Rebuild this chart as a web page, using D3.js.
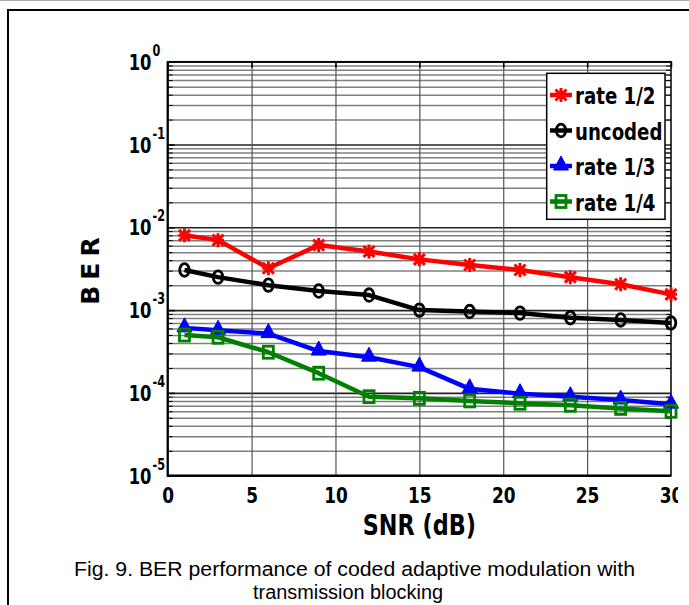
<!DOCTYPE html>
<html>
<head>
<meta charset="utf-8">
<script src="https://cdn.jsdelivr.net/npm/d3@7"></script>
<style>
body { margin: 0; background: #fff; }
svg { display: block; }
</style>
</head>
<body>
<div id="chart"></div>
<script>

// values (SNR in dB, BER)
var snr = [1, 3, 6, 9, 12, 15, 18, 21, 24, 27, 30];
var ber_rate_half = [8.0e-3, 7.0e-3, 3.2e-3, 6.1e-3, 5.1e-3, 4.1e-3, 3.5e-3, 3.05e-3, 2.5e-3, 2.05e-3, 1.55e-3];
var ber_uncoded   = [3.05e-3, 2.5e-3, 2.0e-3, 1.7e-3, 1.52e-3, 1.0e-3, 9.6e-4, 9.2e-4, 8.1e-4, 7.6e-4, 7.0e-4];
var ber_rate_third = [6.1e-4, 5.7e-4, 5.2e-4, 3.2e-4, 2.7e-4, 2.05e-4, 1.12e-4, 9.8e-5, 9.0e-5, 8.2e-5, 7.3e-5];
var ber_rate_quarter = [5.0e-4, 4.7e-4, 3.1e-4, 1.73e-4, 9.0e-5, 8.6e-5, 8.0e-5, 7.5e-5, 7.1e-5, 6.5e-5, 6.0e-5];

var series_names = ['rate 1/2', 'uncoded', 'rate 1/3', 'rate 1/4'];
var x_ticks = [0, 5, 10, 15, 20, 25, 30];
var y_exponents = [0, -1, -2, -3, -4, -5];
var caption_lines = ['Fig. 9. BER performance of coded adaptive modulation with', 'transmission blocking'];

var w = 689;
var h = 605;
var plot_left = 167.7, plot_right = 671, plot_top = 61.7, plot_bottom = 475.7;

var xScale = d3.scaleLinear().domain([0, 30]).range([plot_left, plot_right]);
var yScale = d3.scaleLog().domain([1e-5, 1]).range([plot_bottom, plot_top]);

var svg = d3.select('#chart')
    .append('svg')
    .attr('width', w)
    .attr('height', h);

// page frame
svg.append('line').attr('x1', 0).attr('x2', w).attr('y1', 0.5).attr('y2', 0.5)
    .attr('stroke', '#aaa').attr('stroke-width', 1);
svg.append('path')
    .attr('d', 'M8,' + h + ' L8,10 L' + w + ',10')
    .attr('fill', 'none').attr('stroke', 'black').attr('stroke-width', 2);

// condensed bold text, like the squeezed figure
function squeezed(parent, x, y, txt, size, anchor, sx) {
    return parent.append('text')
        .attr('transform', 'translate(' + x + ',' + y + ') scale(' + sx + ',1)')
        .attr('text-anchor', anchor)
        .attr('font-family', 'DejaVu Sans')
        .attr('font-weight', 'bold')
        .attr('font-size', size)
        .attr('fill', 'black')
        .text(txt);
}

var major_vals = y_exponents.map(function(e) { return Math.pow(10, e); });
var minor_vals = [];
for (var e = -5; e < 0; e++) {
    for (var m = 2; m <= 9; m++) {
        minor_vals.push(m * Math.pow(10, e));
    }
}

// horizontal grid
svg.append('g')
    .attr('class', 'grid minor')
    .attr('transform', 'translate(' + plot_left + ',0)')
    .call(d3.axisLeft(yScale).tickValues(minor_vals).tickSize(-(plot_right - plot_left)).tickFormat(''))
    .call(function(g) {
        g.select('.domain').remove();
        g.selectAll('line').attr('stroke', '#808080').attr('stroke-width', 1.5);
    });

svg.append('g')
    .attr('class', 'grid major')
    .attr('transform', 'translate(' + plot_left + ',0)')
    .call(d3.axisLeft(yScale).tickValues(major_vals).tickSize(-(plot_right - plot_left)).tickFormat(''))
    .call(function(g) {
        g.select('.domain').remove();
        g.selectAll('line').attr('stroke', '#222').attr('stroke-width', 1.6);
    });

// vertical grid
svg.append('g')
    .attr('class', 'grid vert')
    .attr('transform', 'translate(0,' + plot_bottom + ')')
    .call(d3.axisBottom(xScale).tickValues([5, 10, 15, 20, 25]).tickSize(-(plot_bottom - plot_top)).tickFormat(''))
    .call(function(g) {
        g.select('.domain').remove();
        g.selectAll('line').attr('stroke', '#555').attr('stroke-width', 1.2);
    });

// minor ticks left and right, major ticks on top
svg.append('g')
    .attr('transform', 'translate(' + plot_left + ',0)')
    .call(d3.axisLeft(yScale).tickValues(minor_vals).tickSize(-5).tickFormat(''))
    .call(function(g) { g.select('.domain').remove(); g.selectAll('line').attr('stroke', 'black'); });
svg.append('g')
    .attr('transform', 'translate(' + plot_right + ',0)')
    .call(d3.axisRight(yScale).tickValues(minor_vals).tickSize(-5).tickFormat(''))
    .call(function(g) { g.select('.domain').remove(); g.selectAll('line').attr('stroke', 'black'); });
svg.append('g')
    .attr('transform', 'translate(0,' + plot_top + ')')
    .call(d3.axisTop(xScale).tickValues(x_ticks).tickSize(-6).tickFormat(''))
    .call(function(g) { g.select('.domain').remove(); g.selectAll('line').attr('stroke', 'black').attr('stroke-width', 1.5); });

// x axis with labels
svg.append('clipPath').attr('id', 'cut')
    .append('rect').attr('x', 0).attr('y', 0).attr('width', 678).attr('height', h);

svg.append('g')
    .attr('class', 'x axis')
    .attr('clip-path', 'url(#cut)')
    .attr('transform', 'translate(0,' + plot_bottom + ')')
    .call(d3.axisBottom(xScale).tickValues(x_ticks).tickSizeInner(-6).tickSizeOuter(0).tickPadding(11.5))
    .call(function(g) {
        g.select('.domain').remove();
        g.selectAll('line').attr('stroke', 'black').attr('stroke-width', 1.5);
        g.selectAll('text')
            .attr('font-family', 'DejaVu Sans')
            .attr('font-weight', 'bold')
            .attr('font-size', 22)
            .attr('fill', 'black')
            .attr('transform', 'scale(0.77,1)');
    });

// y axis ticks, labels drawn as 10 with exponent
svg.append('g')
    .attr('class', 'y axis')
    .attr('transform', 'translate(' + plot_left + ',0)')
    .call(d3.axisLeft(yScale).tickValues(major_vals).tickSizeInner(-7).tickSizeOuter(0).tickFormat(''))
    .call(function(g) { g.select('.domain').remove(); g.selectAll('line').attr('stroke', 'black').attr('stroke-width', 1.5); });

y_exponents.forEach(function(ex) {
    var yy = yScale(Math.pow(10, ex));
    squeezed(svg, 151.5, yy + 8, '10', 21, 'end', 0.78);
    squeezed(svg, 152.5, yy - 6, String(ex), 15, 'start', 0.75);
});

// plot box
svg.append('rect')
    .attr('x', plot_left).attr('y', plot_top)
    .attr('width', plot_right - plot_left).attr('height', plot_bottom - plot_top)
    .attr('fill', 'none').attr('stroke', 'black').attr('stroke-width', 1.5);
svg.append('path')
    .attr('d', 'M' + plot_left + ',' + plot_top + ' L' + plot_left + ',' + plot_bottom + ' L' + plot_right + ',' + plot_bottom)
    .attr('fill', 'none').attr('stroke', 'black').attr('stroke-width', 2.2);

// axis titles
squeezed(svg, (plot_left + plot_right) / 2, 535, 'SNR (dB)', 29, 'middle', 0.77);
svg.append('text')
    .attr('transform', 'translate(99,268) rotate(-90)')
    .attr('text-anchor', 'middle')
    .attr('font-family', 'DejaVu Sans')
    .attr('font-weight', 'bold')
    .attr('font-size', 25)
    .attr('letter-spacing', 6)
    .text('BER');

// markers
function draw_marker(g, kind, color, cx, cy) {
    if (kind == 'star') {
        g.append('path')
            .attr('d', 'M' + cx + ',' + (cy - 7) + ' L' + cx + ',' + (cy + 7) +
                       ' M' + (cx - 5.5) + ',' + (cy - 5.5) + ' L' + (cx + 5.5) + ',' + (cy + 5.5) +
                       ' M' + (cx - 5.5) + ',' + (cy + 5.5) + ' L' + (cx + 5.5) + ',' + (cy - 5.5) +
                       ' M' + (cx - 6) + ',' + cy + ' L' + (cx + 6) + ',' + cy)
            .attr('stroke', color).attr('stroke-width', 3).attr('fill', 'none');
    }
    if (kind == 'circle') {
        g.append('ellipse')
            .attr('cx', cx).attr('cy', cy).attr('rx', 4.8).attr('ry', 6.3)
            .attr('stroke', color).attr('stroke-width', 2.8).attr('fill', 'none');
    }
    if (kind == 'triangle') {
        g.append('path')
            .attr('d', 'M' + cx + ',' + (cy - 10) + ' L' + (cx + 7.5) + ',' + (cy + 4) + ' L' + (cx - 7.5) + ',' + (cy + 4) + 'Z')
            .attr('fill', color).attr('stroke', color).attr('stroke-width', 1);
    }
    if (kind == 'square') {
        g.append('rect')
            .attr('x', cx - 5).attr('y', cy - 6).attr('width', 10).attr('height', 12)
            .attr('stroke', color).attr('stroke-width', 2.8).attr('fill', 'none');
    }
}

var series = [
    {name: series_names[0], values: ber_rate_half, color: '#ff0000', marker: 'star'},
    {name: series_names[1], values: ber_uncoded, color: '#000000', marker: 'circle'},
    {name: series_names[2], values: ber_rate_third, color: '#0000ff', marker: 'triangle'},
    {name: series_names[3], values: ber_rate_quarter, color: '#008000', marker: 'square'}
];

var line = d3.line()
    .x(function(d) { return xScale(d[0]); })
    .y(function(d) { return yScale(d[1]); });

series.forEach(function(s) {
    var pts = snr.map(function(v, i) { return [v, s.values[i]]; });
    var g = svg.append('g').attr('class', 'series');
    g.append('path')
        .datum(pts)
        .attr('d', line)
        .attr('fill', 'none')
        .attr('stroke', s.color)
        .attr('stroke-width', 4.5)
        .attr('stroke-linejoin', 'round');
    pts.forEach(function(p) {
        draw_marker(g, s.marker, s.color, xScale(p[0]), yScale(p[1]));
    });
});

// legend
var legend = svg.append('g').attr('class', 'legend');
legend.append('rect')
    .attr('x', 546.7).attr('y', 73.3).attr('width', 118.3).attr('height', 146)
    .attr('fill', 'white').attr('stroke', 'black').attr('stroke-width', 1.5);

series.forEach(function(s, i) {
    var cy = 95 + i * 35.5;
    legend.append('line')
        .attr('x1', 550).attr('x2', 572).attr('y1', cy).attr('y2', cy)
        .attr('stroke', s.color).attr('stroke-width', 4.5);
    draw_marker(legend, s.marker, s.color, 561, cy);
    squeezed(legend, 575, cy + 9, s.name, 23, 'start', 0.79);
});

// caption
svg.append('text')
    .attr('x', 74).attr('y', 576)
    .attr('font-family', 'Liberation Sans, Arial, sans-serif')
    .attr('font-size', 20)
    .attr('textLength', 561)
    .attr('lengthAdjust', 'spacingAndGlyphs')
    .text(caption_lines[0]);
svg.append('text')
    .attr('x', 253).attr('y', 599)
    .attr('font-family', 'Liberation Sans, Arial, sans-serif')
    .attr('font-size', 20)
    .attr('textLength', 190)
    .attr('lengthAdjust', 'spacingAndGlyphs')
    .text(caption_lines[1]);

</script>
</body>
</html>
